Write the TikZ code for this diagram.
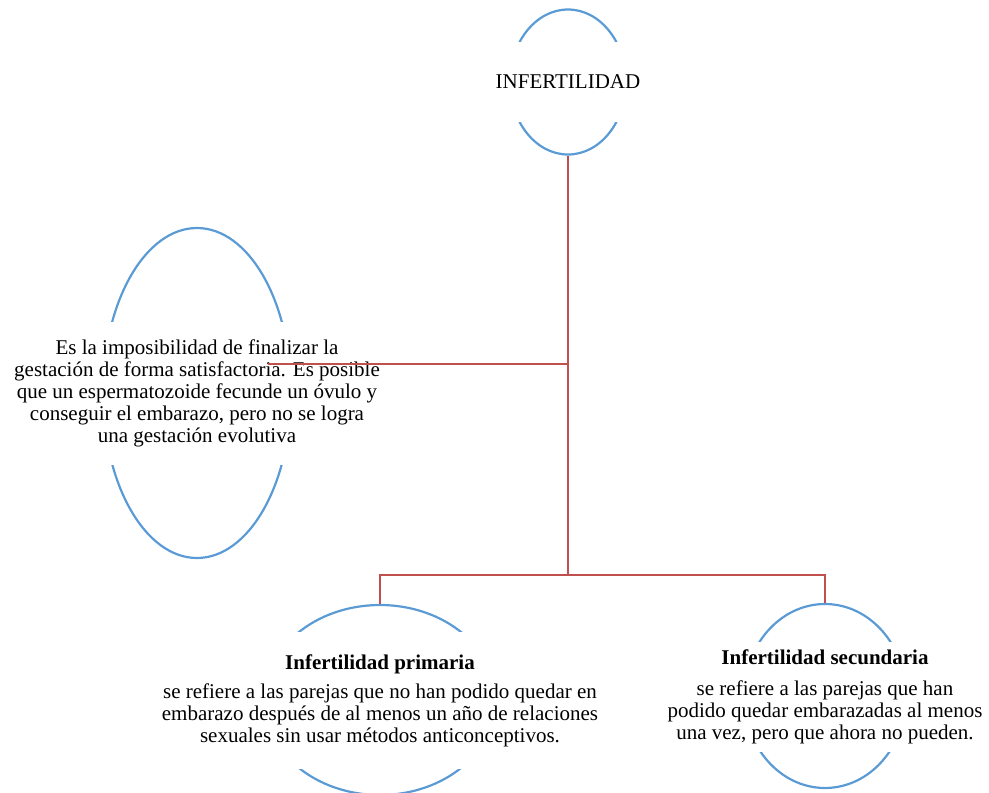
\documentclass[tikz,border=0pt]{standalone}
\usepackage{fontspec}
\setmainfont{Liberation Serif}
\usetikzlibrary{shapes.geometric}
\definecolor{azul}{RGB}{91,155,213}
\definecolor{rojo}{RGB}{192,80,77}
\begin{document}
\begin{tikzpicture}[x=1pt,y=-1pt,
            ovalo/.style={ellipse, draw=azul, line width=2.2pt, inner sep=0pt},
            texto/.style={fill=white, inner sep=0pt, align=center, font=\fontsize{21}{22}\selectfont},
            conector/.style={draw=rojo, line width=2.4pt}]
            \useasboundingbox (0,0) rectangle (989,793);
            \node[ovalo, minimum width=116pt, minimum height=145pt] (infertilidad-e) at (568,82) {};
            \node[ovalo, minimum width=188pt, minimum height=330pt] (definicion-e) at (197,393) {};
            \node[ovalo, minimum width=232pt, minimum height=190pt] (primaria-e) at (380,700) {};
            \node[ovalo, minimum width=162pt, minimum height=184pt] (secundaria-e) at (825,696) {};
            \node[texto, minimum width=126pt, minimum height=80pt] (infertilidad) at (568,82) {INFERTILIDAD};
            \node[texto, minimum width=200pt, minimum height=143pt] (definicion) at (197,393.5) {Es la imposibilidad de finalizar la\\gestación de forma satisfactoria. Es posible\\que un espermatozoide fecunde un óvulo y\\conseguir el embarazo, pero no se logra\\una gestación evolutiva};
            \node[texto, minimum width=242pt, minimum height=137pt] (primaria) at (380,700.5) {\textbf{Infertilidad primaria}\\[7pt]se refiere a las parejas que no han podido quedar en\\embarazo después de al menos un año de relaciones\\sexuales sin usar métodos anticonceptivos.};
            \node[texto, minimum width=172pt, minimum height=110pt] (secundaria) at (825,697) {\textbf{Infertilidad secundaria}\\[9pt]se refiere a las parejas que han\\podido quedar embarazadas al menos\\una vez, pero que ahora no pueden.};
            \coordinate (rama) at (568,364);
            \coordinate (fin-def) at (268,364);
            \coordinate (bifurca) at (568,575);
            \draw[conector] (infertilidad-e.south) -- (bifurca);
            \draw[conector] (rama) -- (fin-def);
            \draw[conector] (primaria-e.north) |- (bifurca) -| (secundaria-e.north);
        \end{tikzpicture}
\end{document}
